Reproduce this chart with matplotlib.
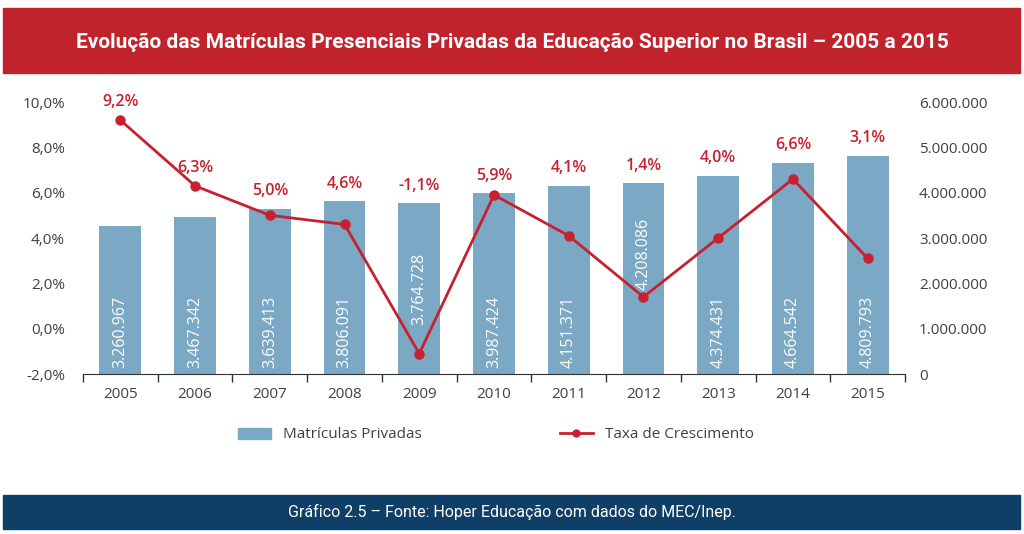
import matplotlib.pyplot as plt
from matplotlib.patches import Rectangle
from matplotlib.lines import Line2D
from matplotlib.ticker import FuncFormatter

plt.rcParams['font.family'] = ['Open Sans', 'DejaVu Sans']

anos = ["2005", "2006", "2007", "2008", "2009", "2010", "2011", "2012", "2013", "2014", "2015"]
matriculas = [3260967, 3467342, 3639413, 3806091, 3764728, 3987424, 4151371, 4208086, 4374431, 4664542, 4809793]
crescimento = [9.2, 6.3, 5.0, 4.6, -1.1, 5.9, 4.1, 1.4, 4.0, 6.6, 3.1]

bar_color = "#7aa8c5"
red = "#c8202f"
gray = "#404040"

fig = plt.figure(figsize=(10.24, 5.34), dpi=100)

# banners
fig.patches.append(Rectangle((3 / 1024, 1 - 73 / 534), 1017 / 1024, 65 / 534,
                             transform=fig.transFigure, color="#c1232c", zorder=0))
fig.patches.append(Rectangle((3 / 1024, 1 - 529 / 534), 1017 / 1024, 34 / 534,
                             transform=fig.transFigure, color="#0f3e66", zorder=0))
fig.text(0.5, 1 - 42 / 534, "Evolução das Matrículas Presenciais Privadas da Educação Superior no Brasil – 2005 a 2015",
         ha="center", va="center", color="white", fontsize=15, fontweight="bold",
         family=["Roboto", "DejaVu Sans"])
fig.text(0.5, 1 - 512 / 534, "Gráfico 2.5 – Fonte: Hoper Educação com dados do MEC/Inep.",
         ha="center", va="center", color="white", fontsize=11.5,
         family=["Roboto", "DejaVu Sans"])

ax = fig.add_axes([83 / 1024, 1 - 374 / 534, 822 / 1024, 272 / 534])
ax2 = ax.twinx()
x = list(range(len(anos)))

ax2.bar(x, matriculas, width=0.56, color=bar_color, zorder=1)
ax2.set_ylim(0, 6000000)
ax.set_ylim(-2, 10)
ax.set_xlim(-0.5, len(anos) - 0.5)

# line on top of bars
ax.set_zorder(ax2.get_zorder() + 1)
ax.patch.set_visible(False)
ax.plot(x, crescimento, color=red, lw=2, marker="o", ms=6.5, zorder=3)

# value labels inside bars
label_base = {4: 1070000, 7: 1850000}
for i, v in enumerate(matriculas):
    ax2.text(i, label_base.get(i, 130000), f"{v:,}".replace(",", "."), rotation=90,
             ha="center", va="bottom", color="white", fontsize=11.5)

# growth labels above bar/point
for i, c in enumerate(crescimento):
    top = max(c, -2 + matriculas[i] / 500000)
    ax.annotate(f"{c:.1f}%".replace(".", ","), (i, top), xytext=(0, 7),
                textcoords="offset points", ha="center", va="bottom",
                color=red, fontsize=11.5, fontweight="semibold")

ax.yaxis.set_major_formatter(FuncFormatter(lambda v, p: f"{v:.1f}%".replace(".", ",")))
ax2.yaxis.set_major_formatter(FuncFormatter(lambda v, p: f"{int(v):,}".replace(",", ".")))
ax.set_yticks([-2, 0, 2, 4, 6, 8, 10])
ax2.set_yticks(range(0, 6000001, 1000000))

ax.set_xticks(x)
ax.set_xticklabels(anos)
ax.set_xticks([i - 0.5 for i in range(len(anos) + 1)], minor=True)
ax.tick_params(axis="x", which="major", length=0, pad=9, labelsize=11, labelcolor=gray)
ax.tick_params(axis="x", which="minor", length=6, width=1, color="#333333")
ax.tick_params(axis="y", length=0, labelsize=11, labelcolor=gray, pad=13)
ax2.tick_params(axis="y", length=0, labelsize=11, labelcolor=gray, pad=10)

for a in (ax, ax2):
    for s in ["top", "left", "right"]:
        a.spines[s].set_visible(False)
ax2.spines["bottom"].set_visible(False)
ax.spines["bottom"].set_color("#333333")

handles = [Rectangle((0, 0), 1, 1, color=bar_color),
           Line2D([0], [0], color=red, lw=2, marker="o", ms=5)]
fig.legend(handles, ["Matrículas Privadas", "Taxa de Crescimento"], loc="center",
           bbox_to_anchor=(496 / 1024, 1 - 435 / 534), ncol=2, frameon=False,
           fontsize=11, columnspacing=9, handlelength=2.2, labelcolor=gray)

fig.savefig("out.png", dpi=100)
